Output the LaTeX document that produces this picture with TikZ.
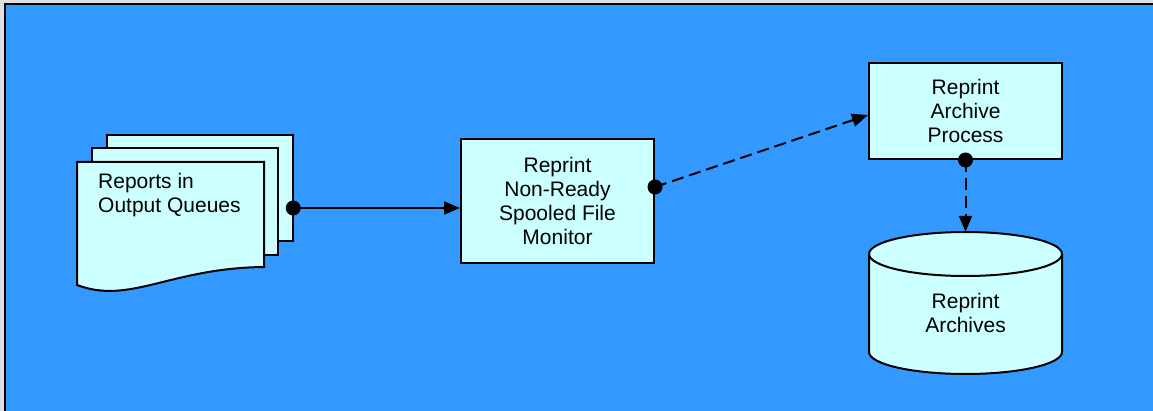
\documentclass[tikz,border=0pt]{standalone}
\usepackage{fontspec}
\setmainfont{Liberation Sans}
\usetikzlibrary{arrows.meta,calc}
\definecolor{bgblue}{HTML}{3399FF}
\definecolor{boxfill}{HTML}{CCFFFF}
\tikzset{
  procbox/.style={draw=black, fill=boxfill, line width=2pt, inner sep=0pt, align=center, minimum width=193pt},
  lbl/.style={font=\fontsize{21}{24}\selectfont, align=center, inner sep=0pt},
  conn/.style={line width=2pt, -{Triangle[length=16pt,width=13pt]}},
  dashconn/.style={conn, dash pattern=on 12pt off 6pt},
  dot/.style={fill=black},
  page/.style={draw=black, fill=boxfill, line width=2pt, line join=miter}
}
\begin{document}
\begin{tikzpicture}[x=1pt,y=-1pt]
\useasboundingbox (0,0) rectangle (1153,411);
\fill[gray!25] (0,0) rectangle (1153,411);
\draw[fill=bgblue, line width=2pt] (5,4) rectangle (1170,430);

% stacked report pages
\draw[page] (107,135) rectangle (293,241);
\draw[page] (92,148) rectangle (278,255);
\draw[page] (77,162) -- (264,162) -- (264,267)
  .. controls (170,268) and (130,305) .. (77,285) -- cycle;
\node[inner sep=0pt, minimum width=216pt, minimum height=159pt] (stack) at (185,214.5) {};
\node[lbl, align=left, anchor=west] (reptxt) at (98,195) {Reports in\\Output Queues};

% monitor
\node[procbox, minimum height=124pt] (mon) at (557.5,201) {};
\node[lbl] (montxt) at (mon.center) {Reprint\\Non-Ready\\Spooled File\\Monitor};

% archive process
\node[procbox, minimum height=96pt] (proc) at (965.5,111) {};
\node[lbl] (proctxt) at (proc.center) {Reprint\\Archive\\Process};

% cylinder
\node[inner sep=0pt, minimum width=193pt, minimum height=143pt] (arch) at (965.5,303.5) {};
\draw[page] (869,254) -- (869,352)
  arc[start angle=180, end angle=360, x radius=96.5pt, y radius=22pt]
  -- (1062,254)
  arc[start angle=0, end angle=180, x radius=96.5pt, y radius=22pt] -- cycle;
\draw[line width=2pt] (869,254) arc[start angle=180, end angle=360, x radius=96.5pt, y radius=22pt];
\node[lbl] (archtxt) at (965.5,313) {Reprint\\Archives};

% connectors
\coordinate (d1) at (stack.east |- 0,208);
\coordinate (d2) at (mon.east |- 0,187);
\coordinate (t2) at (proc.west |- 0,115);
\coordinate (d3) at (proc.south);
\draw[conn] (d1) -- (d1 -| mon.west);
\draw[dashconn] (d2) -- (t2);
\draw[dashconn] (d3) -- (arch.north);
\fill[dot] (d1) circle[radius=7.5pt];
\fill[dot] (d2) circle[radius=7.5pt];
\fill[dot] (d3) circle[radius=7.5pt];
\end{tikzpicture}
\end{document}
